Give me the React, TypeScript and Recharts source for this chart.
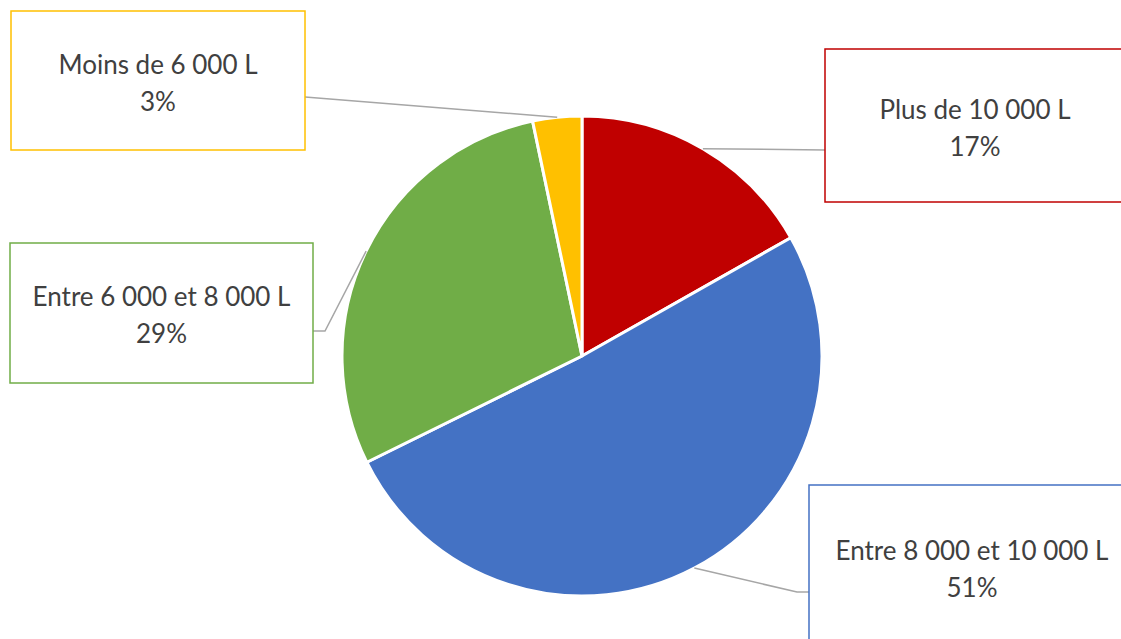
import React from 'react';
import { PieChart, Pie, Cell } from 'recharts';

const categories = ['Plus de 10 000 L', 'Entre 8 000 et 10 000 L', 'Entre 6 000 et 8 000 L', 'Moins de 6 000 L'];
const shares = [16.8, 50.9, 29.0, 3.3];
const colors = ['#C00000', '#4472C4', '#70AD47', '#FFC000'];

// label box layout (positions of the callout boxes)
const labelBoxes = [
  { x: 825, y: 49, w: 300, h: 153, ax: 825, ay: 150, elbow: 0 },
  { x: 809, y: 485, w: 326, h: 163, ax: 809, ay: 592, elbow: -12 },
  { x: 10, y: 243, w: 303, h: 140, ax: 313, ay: 331, elbow: 12 },
  { x: 11, y: 11, w: 294, h: 139, ax: 305, ay: 97, elbow: 0 },
];

const data = categories.map((name, i) => ({ name, value: shares[i] }));

const RAD = Math.PI / 180;
const FONT = 'Lato, "Liberation Sans", sans-serif';

const renderLabel = (props: any) => {
  const { cx, cy, midAngle, outerRadius, percent, name } = props;
  const i = categories.indexOf(name ?? props.payload?.name);
  if (i < 0) return null;
  const b = labelBoxes[i];
  const sx = cx + outerRadius * Math.cos(-midAngle * RAD);
  const sy = cy + outerRadius * Math.sin(-midAngle * RAD);
  const pts = b.elbow
    ? `${sx},${sy} ${b.ax + b.elbow},${b.ay} ${b.ax},${b.ay}`
    : `${sx},${sy} ${b.ax},${b.ay}`;
  const tx = b.x + b.w / 2;
  const ty = b.y + b.h / 2 + 1;
  return (
    <g key={`lbl-${i}`}>
      <polyline points={pts} fill="none" stroke="#A6A6A6" strokeWidth={1.5} />
      <rect x={b.x} y={b.y} width={b.w} height={b.h} fill="#fff" stroke={colors[i]} strokeWidth={1.5} />
      <text x={tx} y={ty - 18} textAnchor="middle" dominantBaseline="central" fontFamily={FONT} fontSize={26} fill="#404040">
        {categories[i]}
      </text>
      <text x={tx} y={ty + 19} textAnchor="middle" dominantBaseline="central" fontFamily={FONT} fontSize={26} fill="#404040">
        {`${Math.round(percent * 100)}%`}
      </text>
    </g>
  );
};

export default function App() {
  return (
    <div style={{ position: 'absolute', left: 0, top: 0, width: 1121, height: 639, background: '#fff' }}>
      <PieChart width={1121} height={639} margin={{ top: 0, right: 0, bottom: 0, left: 0 }}>
        <Pie
          data={data}
          dataKey="value"
          nameKey="name"
          cx={582}
          cy={356}
          outerRadius={240}
          startAngle={90}
          endAngle={-270}
          stroke="#fff"
          strokeWidth={3}
          isAnimationActive={false}
          label={renderLabel}
          labelLine={false}
        >
          {data.map((d, i) => (
            <Cell key={d.name} fill={colors[i]} />
          ))}
        </Pie>
      </PieChart>
    </div>
  );
}
